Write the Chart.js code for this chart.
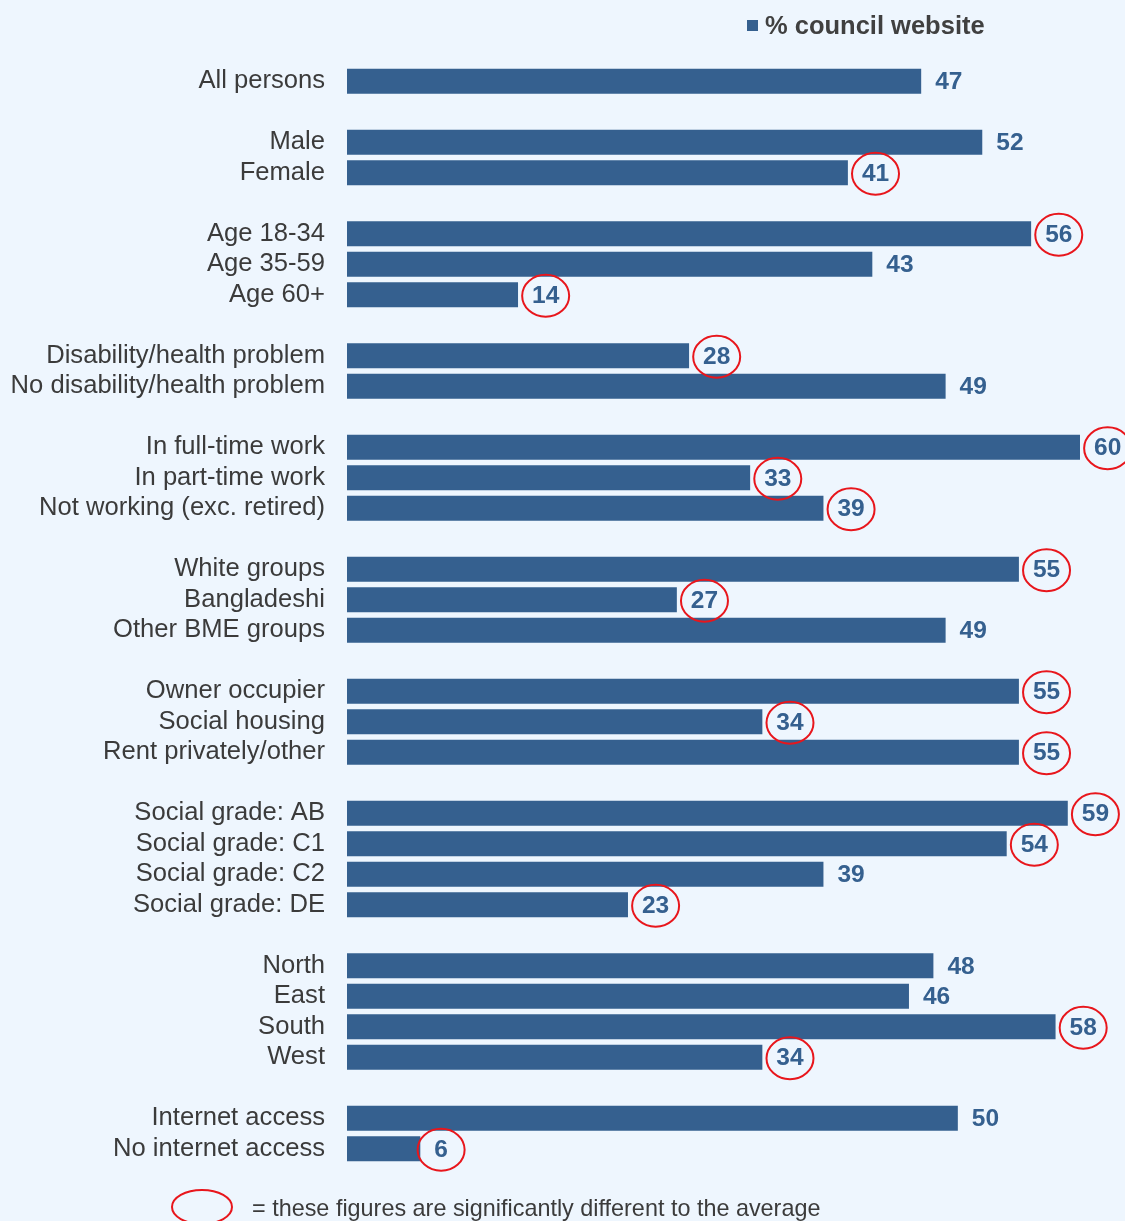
<!DOCTYPE html>
<html>
<head>
<meta charset="utf-8">
<script src="https://cdn.jsdelivr.net/npm/chart.js@4/dist/chart.umd.min.js"></script>
<style>
html,body{margin:0;padding:0;background:#EEF6FE;}
#wrap{width:1125px;height:1221px;position:relative;}
</style>
</head>
<body>
<div id="wrap"><canvas id="c" width="1125" height="1221"></canvas></div>
<script>
const categories = [
  'All persons', '',
  'Male', 'Female', '',
  'Age 18-34', 'Age 35-59', 'Age 60+', '',
  'Disability/health problem', 'No disability/health problem', '',
  'In full-time work', 'In part-time work', 'Not working (exc. retired)', '',
  'White groups', 'Bangladeshi', 'Other BME groups', '',
  'Owner occupier', 'Social housing', 'Rent privately/other', '',
  'Social grade: AB', 'Social grade: C1', 'Social grade: C2', 'Social grade: DE', '',
  'North', 'East', 'South', 'West', '',
  'Internet access', 'No internet access'
];
const values = [
  47, null,
  52, 41, null,
  56, 43, 14, null,
  28, 49, null,
  60, 33, 39, null,
  55, 27, 49, null,
  55, 34, 55, null,
  59, 54, 39, 23, null,
  48, 46, 58, 34, null,
  50, 6
];
const significant = [
  false, false,
  false, true, false,
  true, false, true, false,
  true, false, false,
  true, true, true, false,
  true, true, false, false,
  true, true, true, false,
  true, true, false, true, false,
  false, false, true, true, false,
  false, true
];
const seriesName = '% council website';
const footnote = '= these figures are significantly different to the average';

const BAR = '#35608F';
const VAL = '#35608F';
const RED = '#E8161C';
const TXT = '#3b3b3b';

const overlay = {
  id: 'overlay',
  afterDatasetsDraw(chart) {
    const ctx = chart.ctx;
    const xs = chart.scales.x, ys = chart.scales.y;
    ctx.save();
    ctx.font = 'bold 24.5px "Liberation Sans", Arial, sans-serif';
    ctx.textBaseline = 'middle';
    ctx.textAlign = 'left';
    values.forEach((v, i) => {
      if (v === null) return;
      const xEnd = xs.getPixelForValue(v);
      const y = ys.getPixelForValue(i);
      const txt = String(v);
      const w = ctx.measureText(txt).width;
      const x0 = xEnd + 14;
      ctx.fillStyle = VAL;
      ctx.fillText(txt, x0, y + 1);
      if (significant[i]) {
        ctx.beginPath();
        ctx.ellipse(x0 + w / 2, y + 1, 23.5, 21, 0, 0, Math.PI * 2);
        ctx.strokeStyle = RED;
        ctx.lineWidth = 2;
        ctx.stroke();
      }
    });
    // legend
    ctx.fillStyle = BAR;
    ctx.fillRect(747, 20, 11, 11);
    ctx.fillStyle = '#404040';
    ctx.font = 'bold 25.5px "Liberation Sans", Arial, sans-serif';
    ctx.textAlign = 'left';
    ctx.fillText(seriesName, 765, 27);
    // footnote
    ctx.beginPath();
    ctx.ellipse(202, 1207, 30, 17, 0, 0, Math.PI * 2);
    ctx.strokeStyle = RED;
    ctx.lineWidth = 2;
    ctx.stroke();
    ctx.fillStyle = TXT;
    ctx.font = '23.4px "Liberation Sans", Arial, sans-serif';
    ctx.fillText(footnote, 252, 1210);
    ctx.restore();
  }
};

const bg = {
  id: 'bg',
  beforeDraw(chart) {
    const ctx = chart.ctx;
    ctx.save();
    ctx.fillStyle = '#EEF6FE';
    ctx.fillRect(0, 0, chart.width, chart.height);
    ctx.restore();
  }
};

new Chart(document.getElementById('c'), {
  type: 'bar',
  data: {
    labels: categories,
    datasets: [{
      label: seriesName,
      data: values,
      backgroundColor: BAR,
      borderWidth: 0,
      barPercentage: 0.82,
      categoryPercentage: 1.0
    }]
  },
  options: {
    indexAxis: 'y',
    responsive: false,
    animation: false,
    devicePixelRatio: 1,
    layout: { padding: { top: 66, bottom: 57, right: 45, left: 0 } },
    plugins: {
      legend: { display: false },
      tooltip: { enabled: false }
    },
    scales: {
      x: { display: false, min: 0, max: 60 },
      y: {
        grid: { display: false, drawTicks: false },
        border: { display: false },
        afterFit(scale) { scale.width = 347; },
        ticks: {
          autoSkip: false,
          padding: 22,
          color: TXT,
          font: { family: '"Liberation Sans", Arial, sans-serif', size: 25.6 }
        }
      }
    }
  },
  plugins: [bg, overlay]
});
</script>
</body>
</html>
